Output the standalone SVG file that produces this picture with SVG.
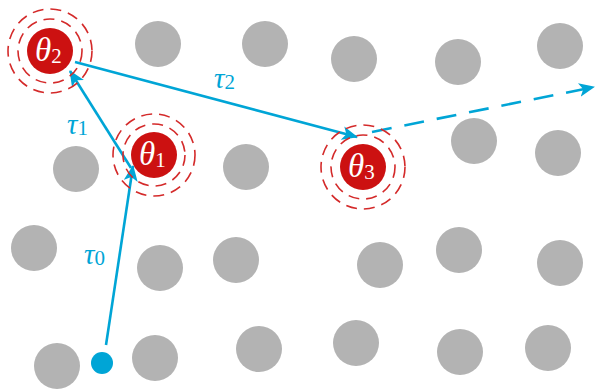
<svg xmlns="http://www.w3.org/2000/svg" width="598" height="390" viewBox="0 0 598 390">
<style>
.g{fill:#b3b3b3}
.n{fill:#cc1111}
.r{fill:none;stroke:#d42a2a;stroke-width:1.6;stroke-dasharray:11 7}
.e{fill:none;stroke:#00a5d6;stroke-width:2.6}
.d{stroke-dasharray:20 13}
.t{font-family:"Liberation Serif",serif;font-size:33px;fill:#fff;font-style:italic}
.l{font-family:"Liberation Serif",serif;font-size:29px;fill:#00a5d6;font-style:italic}
.s{font-style:normal;font-size:21px}
</style>
<defs>
<marker id="ah" viewBox="0 0 16 14" refX="15" refY="7" markerWidth="16" markerHeight="14" markerUnits="userSpaceOnUse" orient="auto">
<path d="M0,0 L16,7 L0,14 L4,7 Z" fill="#00a5d6"/>
</marker>
</defs>
<g id="obstacles">
<circle class="g" cx="158" cy="44" r="23"/>
<circle class="g" cx="265" cy="44" r="23"/>
<circle class="g" cx="354" cy="59" r="23"/>
<circle class="g" cx="458" cy="62" r="23"/>
<circle class="g" cx="560" cy="46" r="23"/>
<circle class="g" cx="76" cy="169" r="23"/>
<circle class="g" cx="246" cy="167" r="23"/>
<circle class="g" cx="474" cy="141" r="23"/>
<circle class="g" cx="558" cy="153" r="23"/>
<circle class="g" cx="34" cy="248" r="23"/>
<circle class="g" cx="160" cy="268" r="23"/>
<circle class="g" cx="236" cy="260" r="23"/>
<circle class="g" cx="380" cy="265" r="23"/>
<circle class="g" cx="459" cy="250" r="23"/>
<circle class="g" cx="560" cy="263" r="23"/>
<circle class="g" cx="57" cy="366" r="23"/>
<circle class="g" cx="155" cy="358" r="23"/>
<circle class="g" cx="259" cy="349" r="23"/>
<circle class="g" cx="356" cy="343" r="23"/>
<circle class="g" cx="460" cy="352" r="23"/>
<circle class="g" cx="548" cy="348" r="23"/>
</g>
<g id="start"><circle cx="102" cy="363" r="11" fill="#00a5d6"/></g>
<g id="connectors">
<line class="e" x1="106" y1="345" x2="133" y2="166" marker-end="url(#ah)"/>
<line class="e" x1="131" y1="168" x2="70" y2="71" marker-end="url(#ah)"/>
<line class="e" x1="75" y1="62" x2="357" y2="137" marker-end="url(#ah)"/>
<line class="e d" x1="372" y1="132" x2="594" y2="87" marker-end="url(#ah)"/>
<text class="l" x="84" y="264">τ<tspan class="s" dy="1">0</tspan></text>
<text class="l" x="67" y="134">τ<tspan class="s" dy="1">1</tspan></text>
<text class="l" x="214" y="88">τ<tspan class="s" dy="1">2</tspan></text>
</g>
<g id="theta2">
<circle class="r" cx="50" cy="51" r="42"/>
<circle class="r" cx="50" cy="51" r="32"/>
<circle class="n" cx="50" cy="51" r="23"/>
<text class="t" x="35" y="61">θ<tspan class="s" dy="2">2</tspan></text>
</g>
<g id="theta1">
<circle class="r" cx="154" cy="155" r="41"/>
<circle class="r" cx="154" cy="155" r="31"/>
<circle class="n" cx="154" cy="155" r="23"/>
<text class="t" x="139" y="165">θ<tspan class="s" dy="2">1</tspan></text>
</g>
<g id="theta3">
<circle class="r" cx="363" cy="167" r="42"/>
<circle class="r" cx="363" cy="167" r="32"/>
<circle class="n" cx="363" cy="167" r="23"/>
<text class="t" x="348" y="177">θ<tspan class="s" dy="2">3</tspan></text>
</g>
</svg>
